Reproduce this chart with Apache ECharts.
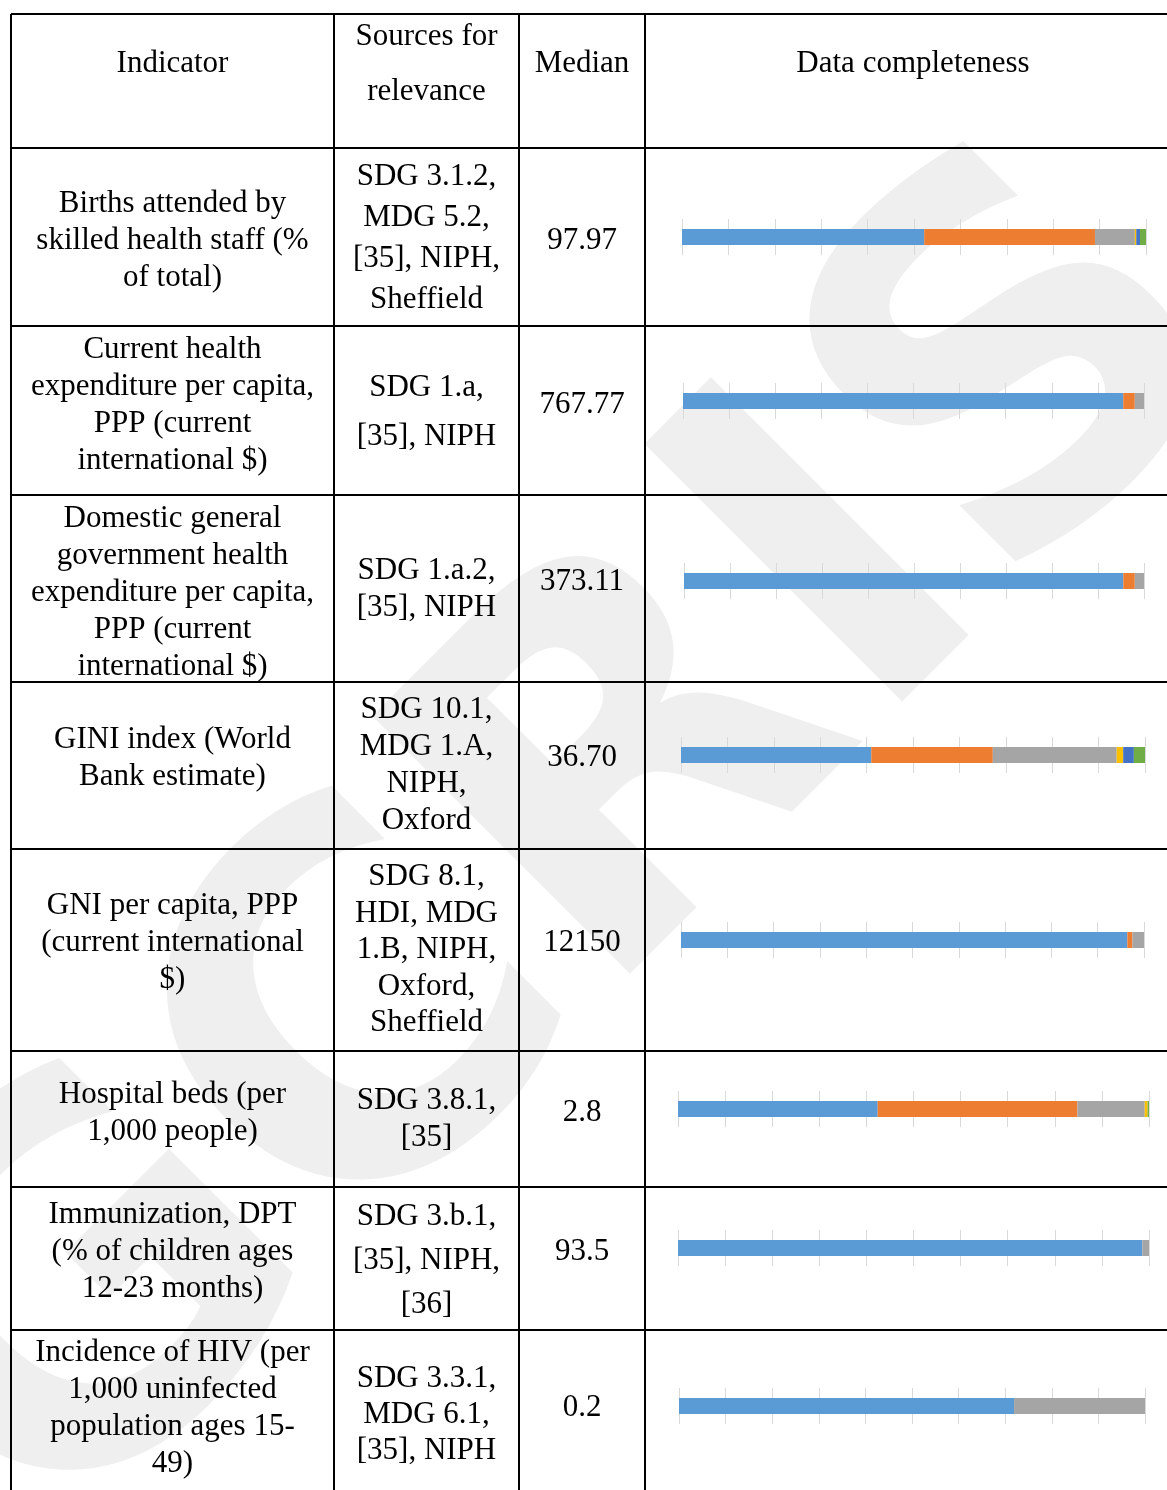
<!DOCTYPE html>
<html lang="en">
<head>
    <meta charset="UTF-8">
    <script src="https://cdn.jsdelivr.net/npm/echarts@6/dist/echarts.min.js"></script>
    <style>
        body, html {
            margin: 0;
            height: 100%;
            background: #fff;
        }

        #main {
            width: 1167px;
            height: 1490px;
        }
    </style>
    <title>Data completeness</title>
</head>
<body>

<div id="main"></div>
<script type="text/javascript">
    // table content
    const indicators = [
        ['Births attended by', 'skilled health staff (%', 'of total)'],
        ['Current health', 'expenditure per capita,', 'PPP (current', 'international $)'],
        ['Domestic general', 'government health', 'expenditure per capita,', 'PPP (current', 'international $)'],
        ['GINI index (World', 'Bank estimate)'],
        ['GNI per capita, PPP', '(current international', '$)'],
        ['Hospital beds (per', '1,000 people)'],
        ['Immunization, DPT', '(% of children ages', '12-23 months)'],
        ['Incidence of HIV (per', '1,000 uninfected', 'population ages 15-', '49)']
    ];
    const sources = [
        ['SDG 3.1.2,', 'MDG 5.2,', '[35], NIPH,', 'Sheffield'],
        ['SDG 1.a,', '[35], NIPH'],
        ['SDG 1.a.2,', '[35], NIPH'],
        ['SDG 10.1,', 'MDG 1.A,', 'NIPH,', 'Oxford'],
        ['SDG 8.1,', 'HDI, MDG', '1.B, NIPH,', 'Oxford,', 'Sheffield'],
        ['SDG 3.8.1,', '[35]'],
        ['SDG 3.b.1,', '[35], NIPH,', '[36]'],
        ['SDG 3.3.1,', 'MDG 6.1,', '[35], NIPH']
    ];
    const medians = ['97.97', '767.77', '373.11', '36.70', '12150', '2.8', '93.5', '0.2'];

    // data completeness shares (%), one value per indicator row
    const blueVals = [52.2, 95.5, 95.5, 41.0, 96.4, 42.4, 98.6, 71.9];
    const orangeVals = [36.8, 2.5, 2.5, 26.2, 1.1, 42.4, 0, 0];
    const grayVals = [8.6, 2.0, 2.0, 26.7, 2.5, 14.3, 1.4, 28.1];
    const yellowVals = [0.3, 0, 0, 1.4, 0, 0.6, 0, 0];
    const darkBlueVals = [0.8, 0, 0, 2.3, 0, 0, 0, 0];
    const greenVals = [1.3, 0, 0, 2.4, 0, 0.3, 0, 0];

    // layout
    const colX = [11, 334, 519, 645, 1181];
    const rowY = [14, 148, 326, 495, 682, 849, 1051, 1187, 1330, 1520];
    const indCenter = [241, 405, 593, 758, 943, 1113, 1252, 1408];
    const srcCenter = [238, 412, 589, 765, 950, 1119, 1261, 1415];
    const srcGap = [41, 49, 37, 37, 36.5, 37, 44, 36];
    const medCenter = [241, 405, 582, 758, 943, 1113, 1252, 1408];
    const barCenter = [237, 401, 581, 755, 940, 1109, 1248, 1406];
    const barLeft = [682, 683, 684, 681, 681, 678, 678, 679];
    const barRight = [1146, 1144, 1144, 1145, 1144, 1149, 1149, 1145];

    const font = '"Liberation Serif", "Times New Roman", serif';
    const fontSize = 31;

    const myChart = echarts.init(document.getElementById('main'));

    const graphics = [];
    // watermark
    graphics.push({
        type: 'text',
        x: 560, y: 860,
        rotation: Math.PI / 4,
        z: -10,
        silent: true,
        style: {
            text: 'GCRIS',
            font: 'bold 500px "DejaVu Sans", sans-serif',
            fill: '#efefef',
            align: 'center',
            verticalAlign: 'middle'
        }
    });

    function addText(str, x, y) {
        graphics.push({
            type: 'text',
            x: x, y: y, z: 10,
            style: {
                text: str,
                fontFamily: font,
                fontSize: fontSize,
                fill: '#000',
                align: 'center',
                verticalAlign: 'middle'
            }
        });
    }

    function addLine(x1, y1, x2, y2) {
        graphics.push({
            type: 'line', z: 10,
            shape: {x1: x1, y1: y1, x2: x2, y2: y2},
            style: {stroke: '#000', lineWidth: 2}
        });
    }

    // borders
    rowY.forEach(function (y) {
        addLine(colX[0], y, colX[4], y);
    });
    colX.forEach(function (x) {
        addLine(x, rowY[0], x, rowY[rowY.length - 1]);
    });

    // header
    const colMid = [];
    for (let i = 0; i < 4; i++) colMid.push((colX[i] + colX[i + 1]) / 2);
    addText('Indicator', colMid[0], 64);
    addText('Sources for', colMid[1], 37);
    addText('relevance', colMid[1], 92);
    addText('Median', colMid[2], 64);
    addText('Data completeness', 913, 64);

    indicators.forEach(function (lines, r) {
        lines.forEach(function (s, i) {
            addText(s, colMid[0], indCenter[r] + (i - (lines.length - 1) / 2) * 37);
        });
        sources[r].forEach(function (s, i) {
            addText(s, colMid[1], srcCenter[r] + (i - (sources[r].length - 1) / 2) * srcGap[r]);
        });
        addText(medians[r], colMid[2], medCenter[r]);
    });

    const grids = [], xAxes = [], yAxes = [], series = [];
    const segs = [
        {vals: blueVals, color: '#5B9BD5'},
        {vals: orangeVals, color: '#ED7D31'},
        {vals: grayVals, color: '#A5A5A5'},
        {vals: yellowVals, color: '#FFC000'},
        {vals: darkBlueVals, color: '#4472C4'},
        {vals: greenVals, color: '#70AD47'}
    ];
    barCenter.forEach(function (c, r) {
        grids.push({
            left: barLeft[r],
            width: barRight[r] - barLeft[r],
            top: c - 18,
            height: 36
        });
        xAxes.push({
            type: 'value', gridIndex: r, min: 0, max: 100, interval: 10,
            axisLine: {show: false}, axisTick: {show: false}, axisLabel: {show: false},
            splitLine: {show: true, lineStyle: {color: '#d9d9d9', width: 1}}
        });
        yAxes.push({
            type: 'category', gridIndex: r, data: [indicators[r][0]], show: false
        });
        segs.forEach(function (sg) {
            series.push({
                type: 'bar',
                xAxisIndex: r, yAxisIndex: r,
                stack: 'row' + r,
                barWidth: 16,
                silent: true,
                itemStyle: {color: sg.color},
                data: [sg.vals[r]]
            });
        });
    });

    const option = {
        animation: false,
        backgroundColor: '#fff',
        grid: grids,
        xAxis: xAxes,
        yAxis: yAxes,
        series: series,
        graphic: graphics
    };
    myChart.setOption(option);
</script>
</body>
</html>
